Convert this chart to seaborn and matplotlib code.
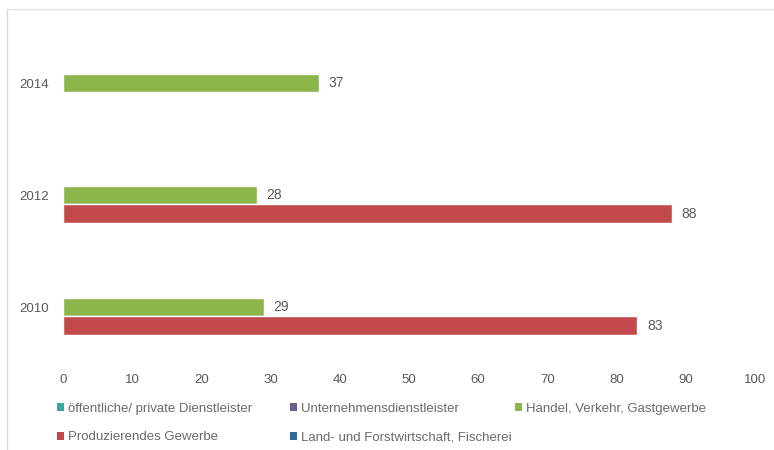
import matplotlib
matplotlib.use("Agg")
import matplotlib.pyplot as plt
from matplotlib.patches import Patch
from matplotlib.lines import Line2D
import numpy as np
import pandas as pd
import seaborn as sns

# data
years = ["2014", "2012", "2010"]
sectors = [
    "öffentliche/ private Dienstleister",
    "Unternehmensdienstleister",
    "Handel, Verkehr, Gastgewerbe",
    "Produzierendes Gewerbe",
    "Land- und Forstwirtschaft, Fischerei",
]
handel = [37, 28, 29]
produzierend = [np.nan, 88, 83]
colors = ["#3aa89c", "#6b5b8e", "#8cb54a", "#c24a4c", "#2f6a9f"]
x_ticks = [0, 10, 20, 30, 40, 50, 60, 70, 80, 90, 100]

sns.set_theme(style="white")
plt.rcParams["font.family"] = ["Liberation Sans", "DejaVu Sans"]
text_color = "#595959"

rows = []
for i, y in enumerate(years):
    rows.append({"Jahr": y, "Sektor": sectors[2], "Wert": handel[i]})
    rows.append({"Jahr": y, "Sektor": sectors[3], "Wert": produzierend[i]})
df = pd.DataFrame(rows).dropna()

fig = plt.figure(figsize=(7.74, 4.5), dpi=100)
ax = fig.add_axes([63 / 774, 1 - 363 / 450, (755 - 63) / 774, (363 - 27) / 450])

sns.barplot(data=df, y="Jahr", x="Wert", hue="Sektor", order=years,
            hue_order=sectors, palette=colors, orient="h", width=0.83,
            dodge=True, saturation=1, errorbar=None, legend=False, ax=ax)

for cont in ax.containers:
    ax.bar_label(cont, fmt="%.0f", padding=7, fontsize=10, color=text_color)

ax.set_xlim(0, 100)
ax.set_ylim(2.5, -0.5)
ax.set_xticks(x_ticks)
ax.set_xticklabels([str(t) for t in x_ticks])
ax.tick_params(axis="x", length=0, pad=8, labelsize=9.5, labelcolor=text_color)
ax.tick_params(axis="y", length=0, pad=10, labelsize=9.5, labelcolor=text_color)
ax.set_xlabel("")
ax.set_ylabel("")
sns.despine(ax=ax, left=True, bottom=True)

# legend laid out row by row, like the original
handles = [Patch(facecolor=c, edgecolor="none") for c in colors]
cols = [([0, 3], 57 / 774), ([1, 4], 290 / 774), ([2], 515 / 774)]
for idx, x0 in cols:
    fig.legend([handles[i] for i in idx], [sectors[i] for i in idx],
               loc="upper left", bbox_to_anchor=(x0, 1 - 403 / 450),
               frameon=False, fontsize=9.5, labelcolor="#6a6a6a",
               handlelength=0.55, handleheight=0.55, handletextpad=0.25,
               labelspacing=1.25, borderaxespad=0, borderpad=0)

# thin frame at top and left of the picture
fig.add_artist(Line2D([7 / 774, 7 / 774], [0, 1 - 9 / 450], color="#d9d9d9", lw=1))
fig.add_artist(Line2D([7 / 774, 1], [1 - 9 / 450, 1 - 9 / 450], color="#e3e3e3", lw=1))

fig.savefig("out.png", dpi=100)
